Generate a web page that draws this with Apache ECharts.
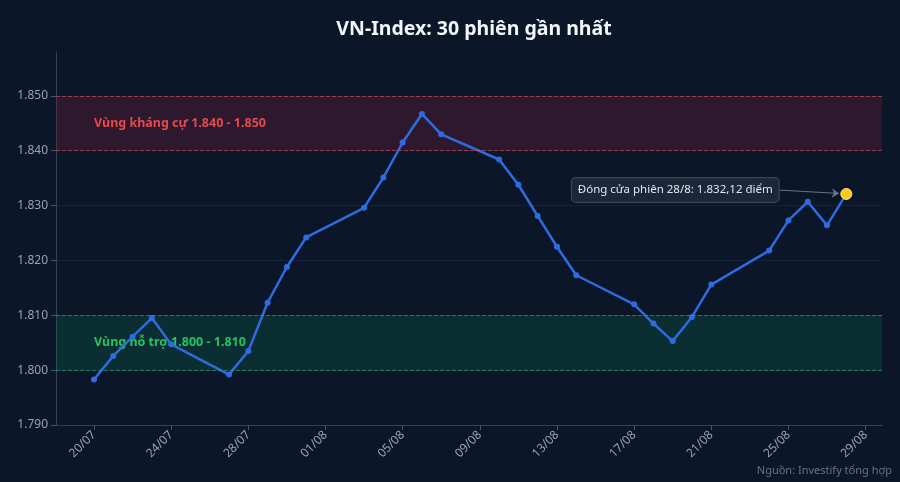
<!DOCTYPE html>
<html>
<head>
<meta charset="utf-8">
<script src="https://cdn.jsdelivr.net/npm/echarts@6/dist/echarts.min.js"></script>
<style>
  html, body { margin: 0; padding: 0; background: #0b1628; }
  #chart { width: 900px; height: 482px; }
</style>
</head>
<body>
<div id="chart"></div>
<script>
// phiên giao dịch (dd/mm, năm 2026)
const dates = [
  '20/07', '21/07', '22/07', '23/07', '24/07',
  '27/07', '28/07', '29/07', '30/07', '31/07',
  '03/08', '04/08', '05/08', '06/08', '07/08',
  '10/08', '11/08', '12/08', '13/08', '14/08',
  '17/08', '18/08', '19/08', '20/08', '21/08',
  '24/08', '25/08', '26/08', '27/08', '28/08'
];
const closes = [
  1798.3, 1802.6, 1806.1, 1809.5, 1804.7,
  1799.2, 1803.5, 1812.3, 1818.8, 1824.2,
  1829.6, 1835.1, 1841.5, 1846.7, 1843.0,
  1838.4, 1833.8, 1828.1, 1822.5, 1817.3,
  1812.0, 1808.5, 1805.3, 1809.7, 1815.6,
  1821.8, 1827.3, 1830.7, 1826.4, 1832.12
];
const tickDates = ['20/07', '24/07', '28/07', '01/08', '05/08', '09/08', '13/08', '17/08', '21/08', '25/08', '29/08'];
const resistance = [1840, 1850];
const support = [1800, 1810];

const DAY = 86400000;
const toTime = s => {
  const [d, m] = s.split('/').map(Number);
  return Date.UTC(2026, m - 1, d);
};
const t0 = toTime(dates[0]);
const dayOf = s => (toTime(s) - t0) / DAY;
const fmt = v => v.toLocaleString('de-DE', { maximumFractionDigits: 2 });
const fmt3 = v => v.toLocaleString('de-DE', { maximumFractionDigits: 0 });

const points = dates.map((d, i) => [dayOf(d), closes[i]]);
const last = points[points.length - 1];
const lastDate = dates[dates.length - 1].split('/').map(Number);

const redLine = { color: 'rgba(220,80,90,0.6)', type: 'dashed', width: 1 };
const greenLine = { color: 'rgba(40,180,110,0.6)', type: 'dashed', width: 1 };
const bandEdge = (y, style) => ({ yAxis: y, lineStyle: style, label: { show: false } });

const chart = echarts.init(document.getElementById('chart'));
chart.setOption({
  backgroundColor: '#0b1628',
  title: {
    text: 'VN-Index: 30 phiên gần nhất',
    left: 469,
    textAlign: 'center',
    top: 14,
    textStyle: { color: '#f1f5f9', fontSize: 19.5, fontWeight: 'bold', fontFamily: 'Noto Sans' }
  },
  graphic: [{
    type: 'text',
    right: 8,
    bottom: 6,
    style: { text: 'Nguồn: Investify tổng hợp', fill: '#64748b', fontSize: 11, fontFamily: 'Noto Sans' }
  }],
  grid: { left: 56, right: 18, top: 52, bottom: 57 },
  xAxis: {
    type: 'value',
    min: -1.97,
    max: 40.85,
    axisLine: { onZero: false, lineStyle: { color: '#334155' } },
    axisTick: { show: true, customValues: tickDates.map(dayOf), lineStyle: { color: '#475569' } },
    axisLabel: {
      customValues: tickDates.map(dayOf),
      rotate: 45,
      color: '#94a3b8',
      fontSize: 12,
      fontFamily: 'Noto Sans',
      formatter: v => {
        const dt = new Date(t0 + v * DAY);
        return String(dt.getUTCDate()).padStart(2, '0') + '/' + String(dt.getUTCMonth() + 1).padStart(2, '0');
      }
    },
    splitLine: { show: false }
  },
  yAxis: {
    type: 'value',
    min: 1790,
    max: 1858,
    interval: 10,
    axisLine: { show: true, onZero: false, lineStyle: { color: '#334155' } },
    axisTick: { show: true, lineStyle: { color: '#475569' } },
    axisLabel: {
      color: '#94a3b8',
      fontSize: 12,
      fontFamily: 'Noto Sans',
      showMaxLabel: false,
      formatter: v => fmt3(v)
    },
    splitLine: { show: true, showMaxLine: false, lineStyle: { color: '#15223a' } }
  },
  series: [{
    type: 'line',
    data: points,
    symbol: 'circle',
    symbolSize: 6,
    lineStyle: { color: '#2f6be0', width: 2.5 },
    itemStyle: { color: '#2f6be0' },
    z: 3,
    markArea: {
      silent: true,
      data: [
        [{
          yAxis: resistance[0],
          itemStyle: { color: 'rgba(120,30,60,0.32)' },
          label: {
            show: true, position: 'insideLeft', distance: 0, offset: [38, 0],
            formatter: 'Vùng kháng cự ' + fmt3(resistance[0]) + ' - ' + fmt3(resistance[1]),
            color: '#e5484d', fontSize: 12.5, fontWeight: 'bold', fontFamily: 'Noto Sans'
          }
        }, { yAxis: resistance[1] }],
        [{
          yAxis: support[0],
          itemStyle: { color: 'rgba(16,110,80,0.28)' },
          label: {
            show: true, position: 'insideLeft', distance: 0, offset: [38, 0],
            formatter: 'Vùng hỗ trợ ' + fmt3(support[0]) + ' - ' + fmt3(support[1]),
            color: '#22c55e', fontSize: 12.5, fontWeight: 'bold', fontFamily: 'Noto Sans'
          }
        }, { yAxis: support[1] }]
      ]
    },
    markLine: {
      silent: true,
      symbol: 'none',
      lineStyle: { color: '#64748b', type: 'solid', width: 1 },
      data: [
        bandEdge(resistance[0], redLine),
        bandEdge(resistance[1], redLine),
        bandEdge(support[0], greenLine),
        bandEdge(support[1], greenLine),
        [{
          coord: [last[0] - 3.45, last[1] + 0.7],
          symbol: 'none',
          label: {
            show: true,
            position: 'start',
            distance: 1,
            formatter: 'Đóng cửa phiên ' + lastDate[0] + '/' + lastDate[1] + ': ' + fmt(last[1]) + ' điểm',
            color: '#e2e8f0',
            fontSize: 11.5,
            fontFamily: 'Noto Sans',
            backgroundColor: 'rgba(30,41,59,0.92)',
            borderColor: '#3b475a',
            borderWidth: 1,
            borderRadius: 4,
            padding: [6, 6]
          }
        }, { coord: [last[0] - 0.38, last[1] + 0.1], symbol: 'arrow', symbolSize: 7 }]
      ]
    },
    markPoint: {
      silent: true,
      symbol: 'circle',
      symbolSize: 11,
      itemStyle: { color: '#facc15', borderColor: '#fde68a', borderWidth: 1 },
      label: { show: false },
      data: [{ coord: last }]
    }
  }]
});
</script>
</body>
</html>
